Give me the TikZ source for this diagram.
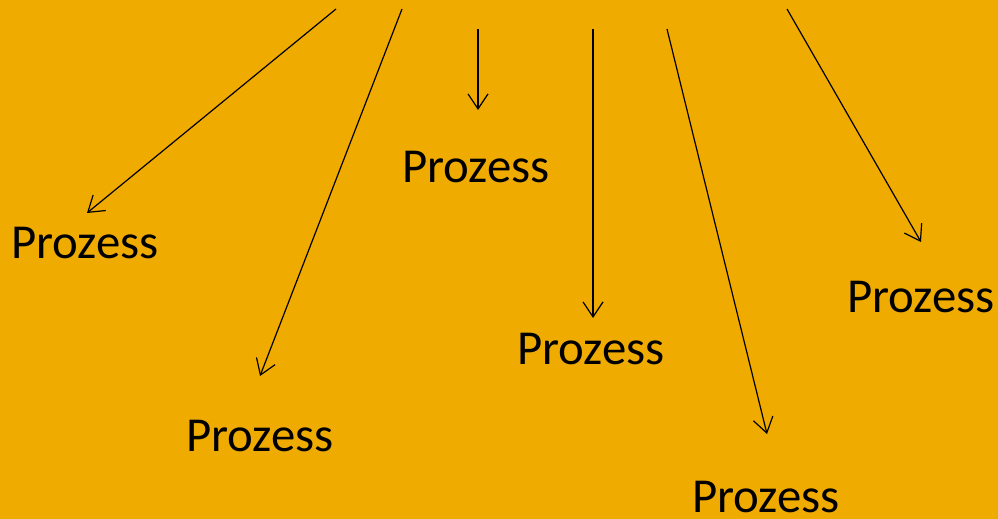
\documentclass[tikz,border=0pt]{standalone}
\usepackage{fontspec}
\setmainfont{Carlito}
\usetikzlibrary{arrows.meta}
\definecolor{bg}{HTML}{F0AB00}
\tikzset{
  lbl/.style={anchor=base, inner sep=0pt, font=\fontsize{48.8}{50}\selectfont},
  conn/.style={draw=black, line width=1.2pt, -{Straight Barb[length=15pt,width=20pt,line width=1.2pt]}}
}
\begin{document}
\begin{tikzpicture}[x=1pt,y=-1pt]
\fill[bg] (0,0) rectangle (998,519);
\useasboundingbox (0,0) rectangle (998,519);
% labels
\node[lbl] (p1) at (85,258) {Prozess};
\node[lbl] (p2) at (260,451) {Prozess};
\node[lbl] (p3) at (476,182) {Prozess};
\node[lbl] (p4) at (591,364) {Prozess};
\node[lbl] (p5) at (766,512) {Prozess};
\node[lbl] (p6) at (921,312) {Prozess};
% arrow ends
\coordinate (s1) at (336,9);   \coordinate (e1) at (87,213);
\coordinate (s2) at (402,9);   \coordinate (e2) at (260,376);
\coordinate (s3) at (478,29);  \coordinate (e3) at (478,110);
\coordinate (s4) at (593,29);  \coordinate (e4) at (593,318);
\coordinate (s5) at (667,29);  \coordinate (e5) at (767,434);
\coordinate (s6) at (787,9);   \coordinate (e6) at (921,242);
\draw[conn] (s1) -- (e1);
\draw[conn] (s2) -- (e2);
\draw[conn] (s3) -- (e3);
\draw[conn] (s4) -- (e4);
\draw[conn] (s5) -- (e5);
\draw[conn] (s6) -- (e6);
\end{tikzpicture}
\end{document}
